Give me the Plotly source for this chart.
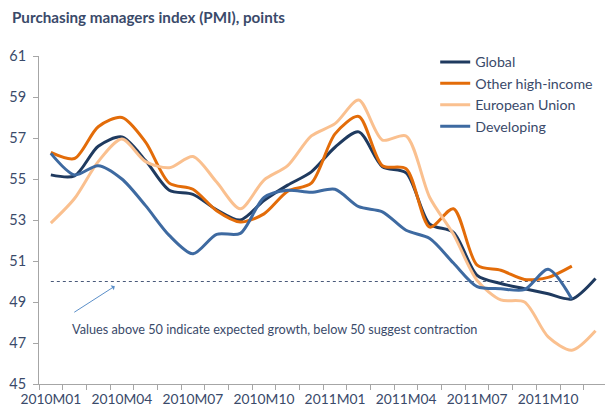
import plotly.graph_objects as go

categories = [f"{y}M{m:02d}" for y in (2010, 2011) for m in range(1, 13)]

global_pmi = [55.2, 55.15, 56.6, 57.05, 55.9, 54.45, 54.25, 53.5, 53.0, 53.95, 54.7, 55.35,
              56.55, 57.3, 55.6, 55.3, 52.8, 52.4, 50.3, 49.9, 49.65, 49.4, 49.15, 50.15]
other_high_income = [56.3, 56.0, 57.55, 58.0, 56.8, 54.8, 54.5, 53.45, 52.9, 53.3, 54.4, 54.8,
                     57.2, 58.05, 55.65, 55.5, 52.65, 53.55, 50.8, 50.55, 50.1, 50.2, 50.75]
european_union = [52.85, 54.05, 55.85, 56.95, 55.85, 55.55, 56.1, 54.85, 53.55, 54.95, 55.65, 57.1,
                  57.7, 58.85, 56.9, 57.1, 54.1, 52.3, 50.05, 49.1, 49.0, 47.3, 46.65, 47.6]
developing = [56.25, 55.2, 55.65, 55.0, 53.7, 52.25, 51.35, 52.3, 52.35, 54.1, 54.45, 54.35,
              54.5, 53.65, 53.4, 52.5, 52.1, 50.9, 49.75, 49.65, 49.6, 50.6, 49.15]

threshold = 50
threshold_span = categories[:23]
label_every = 3
tick_labels = [c if i % label_every == 0 else "" for i, c in enumerate(categories)]

TEXT = "#3a4a6a"
FONT = "Lato"

series = [
    ("Global", global_pmi, "#1F3A5F"),
    ("Other high-income", other_high_income, "#E36C09"),
    ("European Union", european_union, "#FAC08F"),
    ("Developing", developing, "#3E6AA1"),
]

fig = go.Figure()
fig.add_trace(go.Scatter(
    x=threshold_span, y=[threshold] * len(threshold_span), mode="lines",
    line=dict(color="#4a5a7a", width=1, dash="dot"), showlegend=False, hoverinfo="skip"))

for name, vals, color in series:
    fig.add_trace(go.Scatter(
        x=categories[:len(vals)], y=vals, name=name, mode="lines",
        line=dict(color=color, width=3, shape="spline", smoothing=0.8)))

fig.update_layout(
    width=605, height=408,
    margin=dict(l=39, r=0, t=56, b=24, autoexpand=False),
    paper_bgcolor="white", plot_bgcolor="white",
    font=dict(family=FONT, color=TEXT, size=14),
    title=dict(text="<b>Purchasing managers index (PMI), points</b>",
               x=12 / 605, xanchor="left", y=1 - 18 / 408, yanchor="middle",
               font=dict(family=FONT, size=15.2, color=TEXT)),
    legend=dict(x=0.70, y=1.03, xanchor="left", yanchor="top",
                bgcolor="rgba(0,0,0,0)", font=dict(size=14.2, color=TEXT),
                tracegroupgap=0, itemwidth=30),
    showlegend=True,
)

fig.update_xaxes(
    type="category", categoryorder="array", categoryarray=categories,
    range=[-0.5, 23.4], automargin=False,
    tickmode="array", tickvals=categories, ticktext=tick_labels, tickangle=0,
    tickson="boundaries", ticks="outside", ticklen=5, tickcolor="#a6a6a6",
    ticklabelstandoff=2,
    showline=True, linecolor="#a6a6a6", linewidth=1,
    showgrid=False, zeroline=False,
    tickfont=dict(size=13.8, color=TEXT),
)
fig.update_yaxes(
    range=[45, 61], tickmode="linear", tick0=45, dtick=2, automargin=False,
    ticks="outside", ticklen=5, tickcolor="#a6a6a6",
    ticklabelstandoff=4,
    showline=True, linecolor="#a6a6a6", linewidth=1,
    showgrid=False, zeroline=False,
    tickfont=dict(size=14.5, color=TEXT),
)

fig.add_annotation(
    x=2.7, y=49.77, xref="x", yref="y",
    ax=-42, ay=27, axref="pixel", ayref="pixel",
    text="", showarrow=True, arrowhead=1, arrowsize=1, arrowwidth=1,
    arrowcolor="#5b8fc9")
fig.add_annotation(
    x=0.8, y=47.67, xref="x", yref="y", xanchor="left", yanchor="middle",
    text="Values above 50 indicate expected growth, below 50 suggest contraction",
    showarrow=False, font=dict(family=FONT, size=12.7, color=TEXT))

fig.write_html("out.html", config={"displayModeBar": False},
               post_script="document.body.style.margin='0';document.body.style.overflow='hidden';")
